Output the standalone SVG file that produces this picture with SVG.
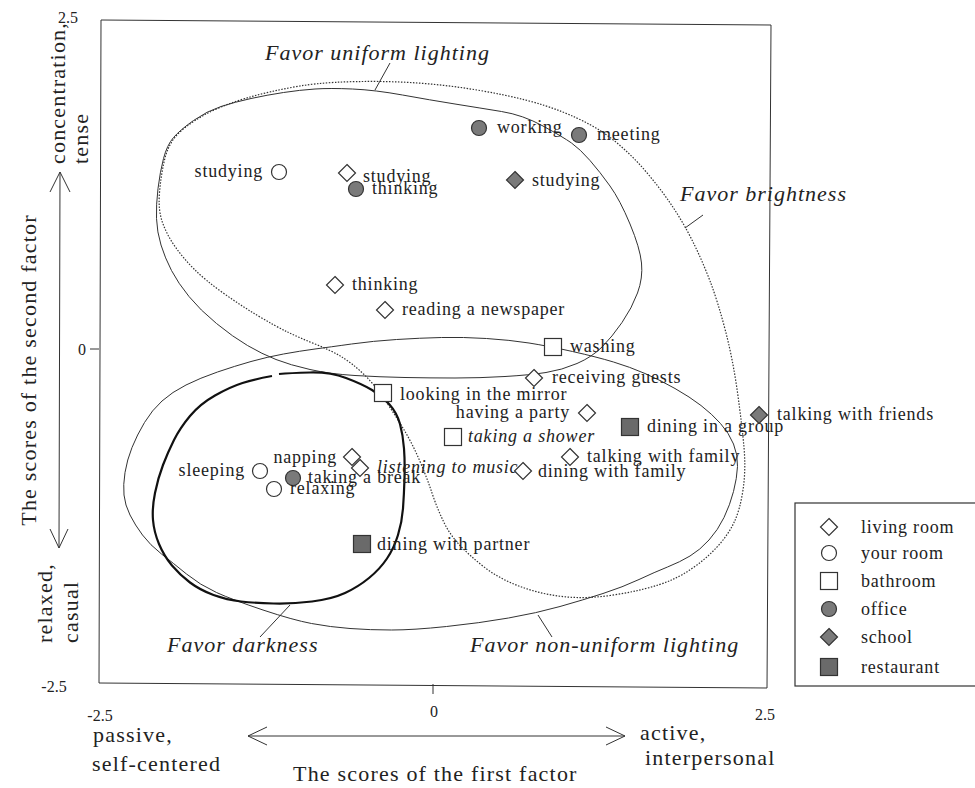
<svg xmlns="http://www.w3.org/2000/svg" xmlns:xlink="http://www.w3.org/1999/xlink" width="975" height="788" viewBox="0 0 975 788">
<style>
text{font-family:"Liberation Serif","Times New Roman",serif;fill:#222}
.t{font-size:18px;letter-spacing:0.8px}
.it{font-style:italic}
.lab{font-size:22px;font-style:italic;letter-spacing:1px}
.ax{font-size:22px;letter-spacing:1.2px}
.num{font-size:16px}
.ln{fill:none;stroke:#333;stroke-width:1}
.dot{fill:none;stroke:#333;stroke-width:1.2;stroke-dasharray:1.5 1.5}
.thick{fill:none;stroke:#111;stroke-width:2.2}
.o{fill:#fff;stroke:#333;stroke-width:1.2}
.f{fill:#7a7a7a;stroke:#333;stroke-width:1.2}
.fs{fill:#6a6a6a;stroke:#333;stroke-width:1.2}
</style>
<defs>
<polygon id="dia" points="0,-8.5 8.5,0 0,8.5 -8.5,0"/>
<circle id="cir" r="7.5"/>
<rect id="sq" x="-8.5" y="-8.5" width="17" height="17"/>
</defs>
<rect width="975" height="788" fill="#fff"/>

<g id="frame">
<polygon class="ln" points="101,20 771,25 767,688 99,683" stroke-width="1.3"/>
<line class="ln" x1="90" y1="349" x2="99" y2="349"/>
<line class="ln" x1="433" y1="684" x2="433" y2="694"/>
<text class="num" x="68" y="23" text-anchor="middle">2.5</text>
<text class="num" x="82" y="355" text-anchor="middle">0</text>
<text class="num" x="54" y="692" text-anchor="middle">-2.5</text>
<text class="num" x="100" y="721" text-anchor="middle">-2.5</text>
<text class="num" x="434" y="717" text-anchor="middle">0</text>
<text class="num" x="765" y="720" text-anchor="middle">2.5</text>
</g>

<g id="axes">
<line class="ln" x1="60" y1="172" x2="59" y2="548"/>
<polyline class="ln" points="50,192 60,172 70,192"/>
<polyline class="ln" points="50,529 59,548 68,529"/>
<line class="ln" x1="248" y1="736" x2="625" y2="736"/>
<polyline class="ln" points="267,727 248,736 267,745"/>
<polyline class="ln" points="606,727 625,736 606,745"/>
<text class="ax" transform="translate(36,370) rotate(-90)" text-anchor="middle" letter-spacing="1.3">The scores of the second factor</text>
<text class="ax" transform="translate(65,164) rotate(-90)">concentration,</text>
<text class="ax" transform="translate(88,164) rotate(-90)">tense</text>
<text class="ax" transform="translate(52,643) rotate(-90)">relaxed,</text>
<text class="ax" transform="translate(78,643) rotate(-90)">casual</text>
<text class="ax" x="93" y="742">passive,</text>
<text class="ax" x="92" y="771">self-centered</text>
<text class="ax" x="640" y="740">active,</text>
<text class="ax" x="645" y="765">interpersonal</text>
<text class="ax" x="293" y="781" letter-spacing="1.6">The scores of the first factor</text>
</g>

<g id="connectors">
<path id="uniform" class="ln" d="M156.5,218.5 Q156,205 158,188.5 Q160,172 163.5,158.5 Q167,145 173.5,137.5 Q180,130 193.5,120.5 Q207,111 221,106.5 Q235,102 251,98.5 Q267,95 283.5,92.5 Q300,90 315,89 Q330,88 352.5,89 Q375,90 402.5,95 Q430,100 455,104 Q480,108 501.5,111.5 Q523,115 543,126 Q563,137 571.5,143 Q580,149 590,160.5 Q600,172 610,186 Q620,200 630,224 Q640,248 641.5,263 Q643,278 637.5,293 Q632,308 622,322.5 Q612,337 602,347 Q592,357 577,363.5 Q562,370 546,372.5 Q530,375 505,376.5 Q480,378 455,378 Q430,378 405,377.5 Q380,377 355,375.5 Q330,374 310,369.5 Q290,365 276,359.5 Q262,354 247.5,345.5 Q233,337 216.5,323.5 Q200,310 189,296.5 Q178,283 171.5,270.5 Q165,258 161,245 Q157,232 156.5,218.5 Z"/>
<path id="brightness" class="dot" d="M162.5,222.5 Q158,210 159.5,192.5 Q161,175 164.5,160 Q168,145 176.5,135.5 Q185,126 202.5,116 Q220,106 245,98.5 Q270,91 300,86 Q330,81 380,81.5 Q430,82 480,90.5 Q530,99 561.5,111.5 Q593,124 611.5,138.5 Q630,153 645,170.5 Q660,188 671.5,205 Q683,222 692.5,241 Q702,260 710,281 Q718,302 725.5,331 Q733,360 737.5,392.5 Q742,425 744,447.5 Q746,470 743,490 Q740,510 734,522.5 Q728,535 718,546 Q708,557 695.5,566 Q683,575 671.5,580 Q660,585 644,589 Q628,593 610,595.5 Q592,598 576,597.5 Q560,597 544,593.5 Q528,590 512.5,583.5 Q497,577 483.5,566.5 Q470,556 460,545.5 Q450,535 443.5,521.5 Q437,508 432,493 Q427,478 420,461.5 Q413,445 405,431.5 Q397,418 386,401.5 Q375,385 363.5,374 Q352,363 341,356.5 Q330,350 315,344 Q300,338 287.5,332 Q275,326 257.5,315.5 Q240,305 222.5,292.5 Q205,280 194,269 Q183,258 175,246.5 Q167,235 162.5,222.5 Z"/>
<path id="nonuniform" class="ln" d="M283.5,354 Q300,351 315,349 Q330,347 351.5,344 Q373,341 396.5,339.5 Q420,338 441.5,337.5 Q463,337 486.5,338.5 Q510,340 529,343 Q548,346 572.5,351.5 Q597,357 613.5,362 Q630,367 645,373.5 Q660,380 675,388.5 Q690,397 701,405.5 Q712,414 720.5,423.5 Q729,433 733.5,444 Q738,455 737.5,466.5 Q737,478 733.5,491.5 Q730,505 724,517.5 Q718,530 709,540 Q700,550 690,556 Q680,562 667.5,567 Q655,572 639,579.5 Q623,587 603,593.5 Q583,600 560,606.5 Q537,613 508.5,618 Q480,623 446.5,626.5 Q413,630 391.5,630 Q370,630 350,628.5 Q330,627 311.5,623.5 Q293,620 263,610 Q233,600 216.5,592.5 Q200,585 186.5,574 Q173,563 161.5,554 Q150,545 142.5,535 Q135,525 130,515 Q125,505 124,495 Q123,485 125,472.5 Q127,460 132,447.5 Q137,435 144.5,422.5 Q152,410 162,401 Q172,392 186,385 Q200,378 217.5,372 Q235,366 251,361.5 Q267,357 283.5,354 Z"/>
<path id="darkness" class="thick" d="M279,374 Q290,373 310,372.5 Q330,372 346,378 Q362,384 372,390 Q382,396 389.5,404.5 Q397,413 400,424 Q403,435 404,448.5 Q405,462 404.5,478.5 Q404,495 403,508.5 Q402,522 398,535 Q394,548 387,558.5 Q380,569 369,578 Q358,587 345,593 Q332,599 312,601.5 Q292,604 273.5,603.5 Q255,603 241,601.5 Q227,600 213.5,595 Q200,590 190,582.5 Q180,575 172,565.5 Q164,556 159,544 Q154,532 153,520 Q152,508 155,493 Q158,478 163,465 Q168,452 174,440 Q180,428 190,416 Q200,404 215,395.5 Q230,387 242.5,383 Q255,379 272,376"/>
<line class="ln" x1="390" y1="63" x2="375" y2="90"/>
<line class="ln" x1="703" y1="215" x2="685" y2="228"/>
<line class="ln" x1="290" y1="605" x2="260" y2="637"/>
<line class="ln" x1="538" y1="615" x2="552" y2="637"/>
</g>

<g id="region-labels">
<text class="lab" x="265" y="60">Favor uniform lighting</text>
<text class="lab" x="680" y="201">Favor brightness</text>
<text class="lab" x="167" y="652">Favor darkness</text>
<text class="lab" x="470" y="652">Favor non-uniform lighting</text>
</g>

<g id="n-working"><use href="#cir" class="f" x="479" y="128"/><text class="t" x="497" y="133">working</text></g>
<g id="n-meeting"><use href="#cir" class="f" x="579" y="135"/><text class="t" x="597" y="140">meeting</text></g>
<g id="n-studying-yourroom"><use href="#cir" class="o" x="279" y="172"/><text class="t" x="263" y="177" text-anchor="end">studying</text></g>
<g id="n-studying-living"><use href="#dia" class="o" x="347" y="173"/><text class="t" x="363" y="182">studying</text></g>
<g id="n-thinking-office"><use href="#cir" class="f" x="356" y="189"/><text class="t" x="372" y="194">thinking</text></g>
<g id="n-studying-school"><use href="#dia" class="f" x="515" y="180"/><text class="t" x="532" y="186">studying</text></g>
<g id="n-thinking-living"><use href="#dia" class="o" x="335" y="285"/><text class="t" x="352" y="290">thinking</text></g>
<g id="n-reading"><use href="#dia" class="o" x="385" y="310"/><text class="t" x="402" y="315">reading a newspaper</text></g>
<g id="n-washing"><use href="#sq" class="o" x="553" y="347"/><text class="t" x="570" y="352">washing</text></g>
<g id="n-receiving"><use href="#dia" class="o" x="534" y="378"/><text class="t" x="552" y="383">receiving guests</text></g>
<g id="n-mirror"><use href="#sq" class="o" x="383" y="393"/><text class="t" x="400" y="400">looking in the mirror</text></g>
<g id="n-party"><use href="#dia" class="o" x="587" y="413"/><text class="t" x="570" y="418" text-anchor="end">having a party</text></g>
<g id="n-dining-group"><use href="#sq" class="fs" x="630" y="427"/><text class="t" x="647" y="432">dining in a group</text></g>
<g id="n-talking-friends"><use href="#dia" class="f" x="759" y="415"/><text class="t" x="777" y="420">talking with friends</text></g>
<g id="n-shower"><use href="#sq" class="o" x="453" y="437"/><text class="t it" x="468" y="442">taking a shower</text></g>
<g id="n-talking-family"><use href="#dia" class="o" x="570" y="457"/><text class="t" x="587" y="462">talking with family</text></g>
<g id="n-dining-family"><use href="#dia" class="o" x="523" y="471"/><text class="t" x="538" y="477">dining with family</text></g>
<g id="n-napping"><use href="#dia" class="o" x="352" y="457"/><text class="t" x="337" y="463" text-anchor="end">napping</text></g>
<g id="n-music"><use href="#dia" class="o" x="360" y="468"/><text class="t it" x="377" y="473">listening to music</text></g>
<g id="n-sleeping"><use href="#cir" class="o" x="260" y="471"/><text class="t" x="245" y="476" text-anchor="end">sleeping</text></g>
<g id="n-break"><use href="#cir" class="f" x="293" y="478"/><text class="t" x="308" y="483">taking a break</text></g>
<g id="n-relaxing"><use href="#cir" class="o" x="274" y="489"/><text class="t" x="290" y="494">relaxing</text></g>
<g id="n-dining-partner"><use href="#sq" class="fs" x="362" y="544"/><text class="t" x="377" y="550">dining with partner</text></g>

<g id="legend">
<rect x="795" y="503" width="190" height="183" fill="#fff" stroke="#333" stroke-width="1.2"/>
<use href="#dia" class="o" x="829" y="527"/><text class="t" x="861" y="533">living room</text>
<use href="#cir" class="o" x="829" y="553"/><text class="t" x="861" y="559">your room</text>
<use href="#sq" class="o" x="829" y="581"/><text class="t" x="861" y="587">bathroom</text>
<use href="#cir" class="f" x="829" y="609"/><text class="t" x="861" y="615">office</text>
<use href="#dia" class="f" x="829" y="637"/><text class="t" x="861" y="643">school</text>
<use href="#sq" class="fs" x="829" y="667"/><text class="t" x="861" y="673">restaurant</text>
</g>
</svg>
